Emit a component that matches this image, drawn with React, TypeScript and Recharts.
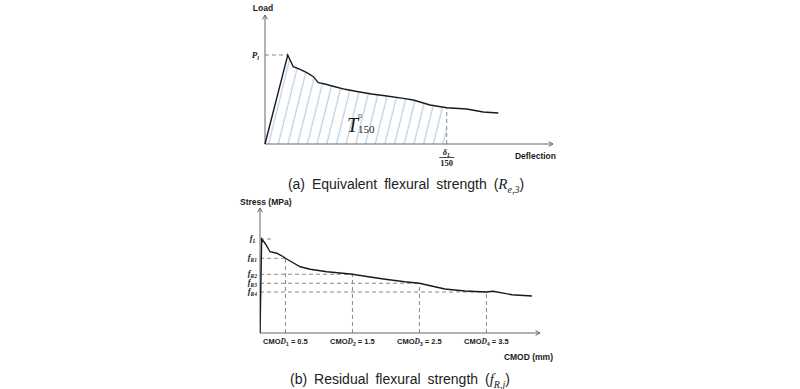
import React from "react";
import { ComposedChart, Line, Area, XAxis, YAxis, ReferenceLine, ReferenceDot } from "recharts";

// (a) load - deflection curve, schematic units
const deflection = [0, 0.79, 0.98, 1.22, 1.45, 1.68, 1.85, 2.08, 2.43, 2.78, 3.24, 3.7, 4.23, 4.8, 5.15, 5.73, 6.31, 7.0, 7.58, 8.1];
const load = [0, 6.9, 5.99, 5.79, 5.53, 5.22, 4.75, 4.65, 4.44, 4.24, 4.05, 3.88, 3.72, 3.54, 3.41, 3.02, 2.81, 2.71, 2.48, 2.4];
const peakLoad = 6.9; // P_l
const peakDeflection = 0.79;
const deltaL150 = 6.31; // delta_L / 150
const loadAtDelta = 2.81;

// (b) stress - CMOD curve
const cmod = [0.12, 0.145, 0.195, 0.27, 0.37, 0.47, 0.5, 0.57, 0.72, 0.87, 1.12, 1.47, 1.5, 1.74, 1.99, 2.28, 2.5, 2.68, 2.88, 3.18, 3.5, 3.6, 3.88, 4.18];
const stress = [0, 3.76, 3.59, 3.25, 3.19, 3.05, 2.99, 2.88, 2.65, 2.55, 2.45, 2.36, 2.35, 2.25, 2.15, 2.05, 1.99, 1.88, 1.76, 1.68, 1.64, 1.67, 1.53, 1.48];
const fL = 3.76;
const fLEnd = 0.31;
const cmodMarks = [0.5, 1.5, 2.5, 3.5];
const cmodLabels = ["0.5", "1.5", "2.5", "3.5"];
const fR = [2.99, 2.35, 1.99, 1.64];
const fRNames = ["R1", "R2", "R3", "R4"];

const AXIS = "#666";
const DASH = "#888";
const INK = "#1a1a1a";
const SANS = "'Liberation Sans', Arial, sans-serif";
const SERIF = "'Liberation Serif', 'DejaVu Serif', serif";

const topRows = deflection.map((d, i) => ({ x: d, load: load[i], hatch: d <= deltaL150 ? load[i] : null }));
const bottomRows = cmod.map((c, i) => ({ x: c, stress: stress[i] }));

function ArrowLine(props: any) {
  const { x1, y1, x2, y2 } = props;
  const ang = Math.atan2(y2 - y1, x2 - x1);
  const s = 5;
  const w = 0.5;
  const ax = x2 - s * Math.cos(ang - w);
  const ay = y2 - s * Math.sin(ang - w);
  const bx = x2 - s * Math.cos(ang + w);
  const by = y2 - s * Math.sin(ang + w);
  return (
    <g>
      <line x1={x1} y1={y1} x2={x2} y2={y2} stroke={AXIS} strokeWidth={1} />
      <polyline points={`${ax},${ay} ${x2},${y2} ${bx},${by}`} fill="none" stroke={AXIS} strokeWidth={1} />
    </g>
  );
}

// text placed at a data point, with a pixel offset
const textAt = (node: (x: number, y: number) => React.ReactNode) => (p: any) => <g>{node(p.cx, p.cy)}</g>;

function AxisTitle({ x, y, anchor, children }: any) {
  return (
    <text x={x} y={y} textAnchor={anchor} fontFamily={SANS} fontWeight="bold" fontSize={8.5} fill={INK}>
      {children}
    </text>
  );
}

function FLabel({ x, y, sub }: any) {
  return (
    <text x={x} y={y} textAnchor="end" fontFamily={SERIF} fontStyle="italic" fontWeight="bold" fontSize={8.5} fill={INK}>
      f
      <tspan fontSize={5.5} dy={1.5}>
        {sub}
      </tspan>
    </text>
  );
}

function TopChart() {
  return (
    <ComposedChart width={800} height={170} data={topRows} margin={{ top: 15, right: 247, bottom: 26, left: 265 }}>
      <defs>
        <pattern id="hatch" patternUnits="userSpaceOnUse" width={9.4} height={10} patternTransform="rotate(14)">
          <line x1={4} y1={-1} x2={4} y2={11} stroke="#8fb3dc" strokeWidth={0.8} />
        </pattern>
      </defs>
      <XAxis dataKey="x" type="number" domain={[0, 10]} hide />
      <YAxis type="number" domain={[0, 10]} hide />
      <Area dataKey="hatch" type="linear" stroke="none" fill="url(#hatch)" fillOpacity={1} isAnimationActive={false} />
      <ReferenceLine segment={[{ x: 0, y: peakLoad }, { x: peakDeflection, y: peakLoad }]} stroke={DASH} strokeDasharray="4 3" ifOverflow="visible" />
      <ReferenceLine segment={[{ x: deltaL150, y: 0 }, { x: deltaL150, y: loadAtDelta }]} stroke={DASH} strokeDasharray="4 3" ifOverflow="visible" />
      <ReferenceLine segment={[{ x: 0, y: 0 }, { x: 10, y: 0 }]} shape={ArrowLine} ifOverflow="visible" />
      <ReferenceLine segment={[{ x: 0, y: 0 }, { x: 0, y: 10 }]} shape={ArrowLine} ifOverflow="visible" />
      <Line dataKey="load" type="linear" stroke={INK} strokeWidth={1.4} dot={false} isAnimationActive={false} />
      <ReferenceDot x={0} y={10} r={0} ifOverflow="visible" shape={textAt((x, y) => <AxisTitle x={x - 2} y={y - 4} anchor="middle">Load</AxisTitle>)} />
      <ReferenceDot x={10} y={0} r={0} ifOverflow="visible" shape={textAt((x, y) => <AxisTitle x={x + 3} y={y + 15} anchor="end">Deflection</AxisTitle>)} />
      <ReferenceDot
        x={0}
        y={peakLoad}
        r={0}
        ifOverflow="visible"
        shape={textAt((x, y) => (
          <text x={x - 6} y={y + 3} textAnchor="end" fontFamily={SERIF} fontStyle="italic" fontWeight="bold" fontSize={9} fill={INK}>
            P<tspan fontSize={6} dy={2}>l</tspan>
          </text>
        ))}
      />
      <ReferenceDot
        x={deltaL150}
        y={0}
        r={0}
        ifOverflow="visible"
        shape={textAt((x, y) => (
          <g fontFamily={SERIF} fontWeight="bold" fill={INK}>
            <text x={x} y={y + 11} textAnchor="middle" fontSize={8.5} fontStyle="italic">
              δ<tspan fontSize={5.5} dy={1.5}>L</tspan>
            </text>
            <line x1={x - 7.5} x2={x + 7.5} y1={y + 13.5} y2={y + 13.5} stroke={INK} strokeWidth={0.8} />
            <text x={x} y={y + 21.5} textAnchor="middle" fontSize={8.5}>150</text>
          </g>
        ))}
      />
      <ReferenceDot
        x={2.85}
        y={0.93}
        r={0}
        ifOverflow="visible"
        shape={textAt((x, y) => (
          <g fontFamily={SERIF} fill={INK}>
            <text x={x} y={y} fontStyle="italic" fontSize={20}>T</text>
            <text x={x + 11} y={y - 14} fontSize={5.5}>D</text>
            <text x={x + 11} y={y + 1} fontSize={11}>150</text>
          </g>
        ))}
      />
    </ComposedChart>
  );
}

function BottomChart() {
  return (
    <ComposedChart width={800} height={175} data={bottomRows} margin={{ top: 13, right: 260, bottom: 37, left: 260 }}>
      <XAxis dataKey="x" type="number" domain={[0.12, 4.3]} hide allowDataOverflow />
      <YAxis type="number" domain={[0, 5]} hide />
      <ReferenceLine segment={[{ x: 0.12, y: fL }, { x: fLEnd, y: fL }]} stroke={DASH} strokeDasharray="4 3" ifOverflow="visible" />
      {cmodMarks.map((m, i) => (
        <ReferenceLine key={`h${i}`} segment={[{ x: 0.12, y: fR[i] }, { x: m, y: fR[i] }]} stroke={DASH} strokeDasharray="4 3" ifOverflow="visible" />
      ))}
      {cmodMarks.map((m, i) => (
        <ReferenceLine key={`v${i}`} segment={[{ x: m, y: 0 }, { x: m, y: fR[i] }]} stroke={DASH} strokeDasharray="4 3" ifOverflow="visible" />
      ))}
      <ReferenceLine segment={[{ x: 0.12, y: 0 }, { x: 4.3, y: 0 }]} shape={ArrowLine} ifOverflow="visible" />
      <ReferenceLine segment={[{ x: 0.12, y: 0 }, { x: 0.12, y: 5 }]} shape={ArrowLine} ifOverflow="visible" />
      <Line dataKey="stress" type="linear" stroke={INK} strokeWidth={1.4} dot={false} isAnimationActive={false} />
      <ReferenceDot x={0.12} y={5} r={0} ifOverflow="visible" shape={textAt((x, y) => <AxisTitle x={x - 20} y={y - 3} anchor="start">Stress (MPa)</AxisTitle>)} />
      <ReferenceDot x={4.3} y={0} r={0} ifOverflow="visible" shape={textAt((x, y) => <AxisTitle x={x + 13} y={y + 27} anchor="end">CMOD (mm)</AxisTitle>)} />
      <ReferenceDot x={0.12} y={fL} r={0} ifOverflow="visible" shape={textAt((x, y) => <FLabel x={x - 4} y={y + 2} sub="L" />)} />
      {fR.map((v, i) => (
        <ReferenceDot key={`f${i}`} x={0.12} y={v} r={0} ifOverflow="visible" shape={textAt((x, y) => <FLabel x={x - 3} y={y + 2} sub={fRNames[i]} />)} />
      ))}
      {cmodMarks.map((m, i) => (
        <ReferenceDot
          key={`c${i}`}
          x={m}
          y={0}
          r={0}
          ifOverflow="visible"
          shape={textAt((x, y) => (
            <text x={x} y={y + 11} textAnchor="middle" fontFamily={SANS} fontWeight="bold" fontSize={7.5} fill={INK}>
              CMO<tspan fontFamily={SERIF} fontStyle="italic">D</tspan>
              <tspan fontSize={5} dy={1.5}>{i + 1}</tspan>
              <tspan dy={-1.5}> = {cmodLabels[i]}</tspan>
            </text>
          ))}
        />
      ))}
    </ComposedChart>
  );
}

const captionStyle: React.CSSProperties = {
  position: "absolute",
  left: 0,
  width: 800,
  textAlign: "center",
  fontFamily: SANS,
  fontSize: 14,
  color: "#222",
  wordSpacing: 3,
  lineHeight: "16px",
};

const subStyle: React.CSSProperties = { fontFamily: SERIF, fontSize: 10, fontStyle: "italic", lineHeight: 0 };

export default function App() {
  return (
    <div style={{ position: "absolute", left: 0, top: 0, width: 800, height: 389, background: "#fff", overflow: "hidden" }}>
      <div style={{ position: "absolute", left: 0, top: 0 }}>
        <TopChart />
      </div>
      <div style={{ ...captionStyle, top: 176, paddingLeft: 6 }}>
        (a) Equivalent flexural strength (
        <i style={{ fontFamily: SERIF, fontSize: 15 }}>R</i>
        <sub style={subStyle}>e,3</sub>)
      </div>
      <div style={{ position: "absolute", left: 0, top: 195 }}>
        <BottomChart />
      </div>
      <div style={{ ...captionStyle, top: 371 }}>
        (b) Residual flexural strength (
        <i style={{ fontFamily: SERIF, fontSize: 15 }}>f</i>
        <sub style={subStyle}>R,j</sub>)
      </div>
    </div>
  );
}
